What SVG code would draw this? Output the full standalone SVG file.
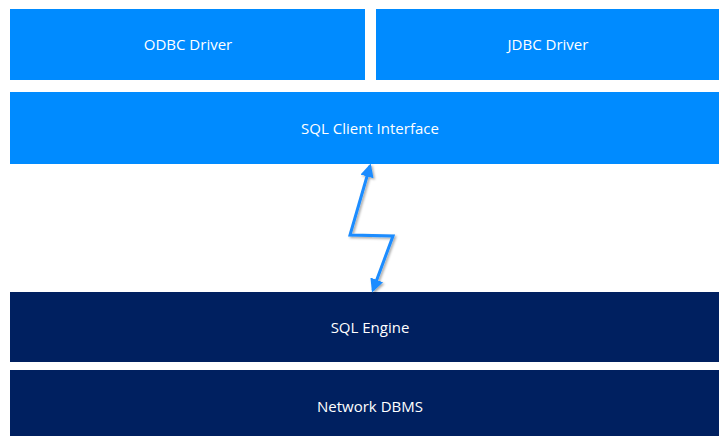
<svg xmlns="http://www.w3.org/2000/svg" width="719" height="436" viewBox="0 0 719 436">
<defs>
<style>
.lb{fill:#008BFF}
.db{fill:#002060}
.t{fill:#fff;font-family:"Open Sans","Liberation Sans",sans-serif;font-size:15px;text-anchor:middle;dominant-baseline:central}
.c{fill:none;stroke:#1A8CFF;stroke-width:3;stroke-linejoin:miter}
</style>
<marker id="ah" viewBox="0 0 10 10" refX="8" refY="5" markerWidth="4.5" markerHeight="4.5" orient="auto-start-reverse" markerUnits="strokeWidth">
<path d="M0,0 L10,5 L0,10 z" fill="#1A8CFF"/>
</marker>
<filter id="sh" x="-50%" y="-50%" width="200%" height="200%">
<feDropShadow dx="1.5" dy="1.5" stdDeviation="1.2" flood-color="#000" flood-opacity="0.35"/>
</filter>
</defs>
<g id="odbc"><rect class="lb" x="10" y="9" width="355" height="71"/><text class="t" x="188" y="44">ODBC Driver</text></g>
<g id="jdbc"><rect class="lb" x="376" y="9" width="343" height="71"/><text class="t" x="548" y="44">JDBC Driver</text></g>
<g id="sqlclient"><rect class="lb" x="10" y="92" width="709" height="72"/><text class="t" x="370" y="128">SQL Client Interface</text></g>
<g id="sqlengine"><rect class="db" x="10" y="292" width="709" height="70"/><text class="t" x="370" y="327">SQL Engine</text></g>
<g id="dbms"><rect class="db" x="10" y="370" width="709" height="66"/><text class="t" x="370" y="406">Network DBMS</text></g>
<g id="connectors">
<path class="c" filter="url(#sh)" d="M370,166 L350,235 L393,236 L373,290" marker-start="url(#ah)" marker-end="url(#ah)"/>
</g>
</svg>
